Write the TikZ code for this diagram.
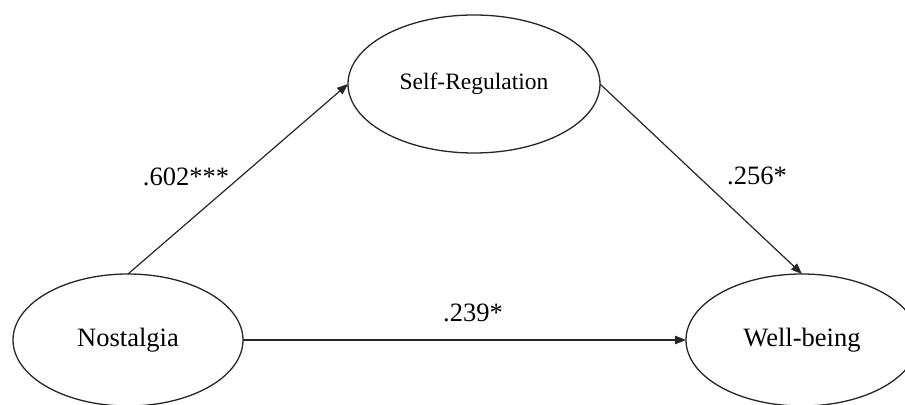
\documentclass[tikz,border=0pt]{standalone}
\usepackage{fontspec}
\setmainfont{Liberation Serif}
\usetikzlibrary{shapes.geometric,arrows.meta}
\begin{document}
\begin{tikzpicture}[x=0.5pt,y=-0.5pt,
  latent/.style={draw=black!85, line width=0.65pt, ellipse, inner sep=0pt, outer sep=0pt, font=\fontsize{13.25}{15}\selectfont},
  path/.style={draw=black!85, line width=0.6pt, -{Triangle[length=5.5pt,width=4.2pt]}},
  coef/.style={font=\fontsize{13.25}{15}\selectfont, inner sep=0pt}]
\useasboundingbox (0,0) rectangle (905,405);
\fill[white] (0,0) rectangle (905,405);
\node[latent, minimum width=126pt, minimum height=69pt, font=\fontsize{11.75}{14}\selectfont] (sr) at (474,84) {Self-Regulation};
\node[latent, minimum width=115pt, minimum height=66pt] (nos) at (128,340) {Nostalgia};
\node[latent, minimum width=116pt, minimum height=66pt] (wb) at (802,340) {Well-being};
\draw[path] (nos.north) -- (sr.west);
\draw[path] (sr.east) -- (wb.north);
\draw[path] (nos.east) -- (wb.west);
\node[coef] (c1) at (186,177) {.602***};
\node[coef] (c2) at (757,176) {.256*};
\node[coef] (c3) at (473,313) {.239*};
\end{tikzpicture}
\end{document}
